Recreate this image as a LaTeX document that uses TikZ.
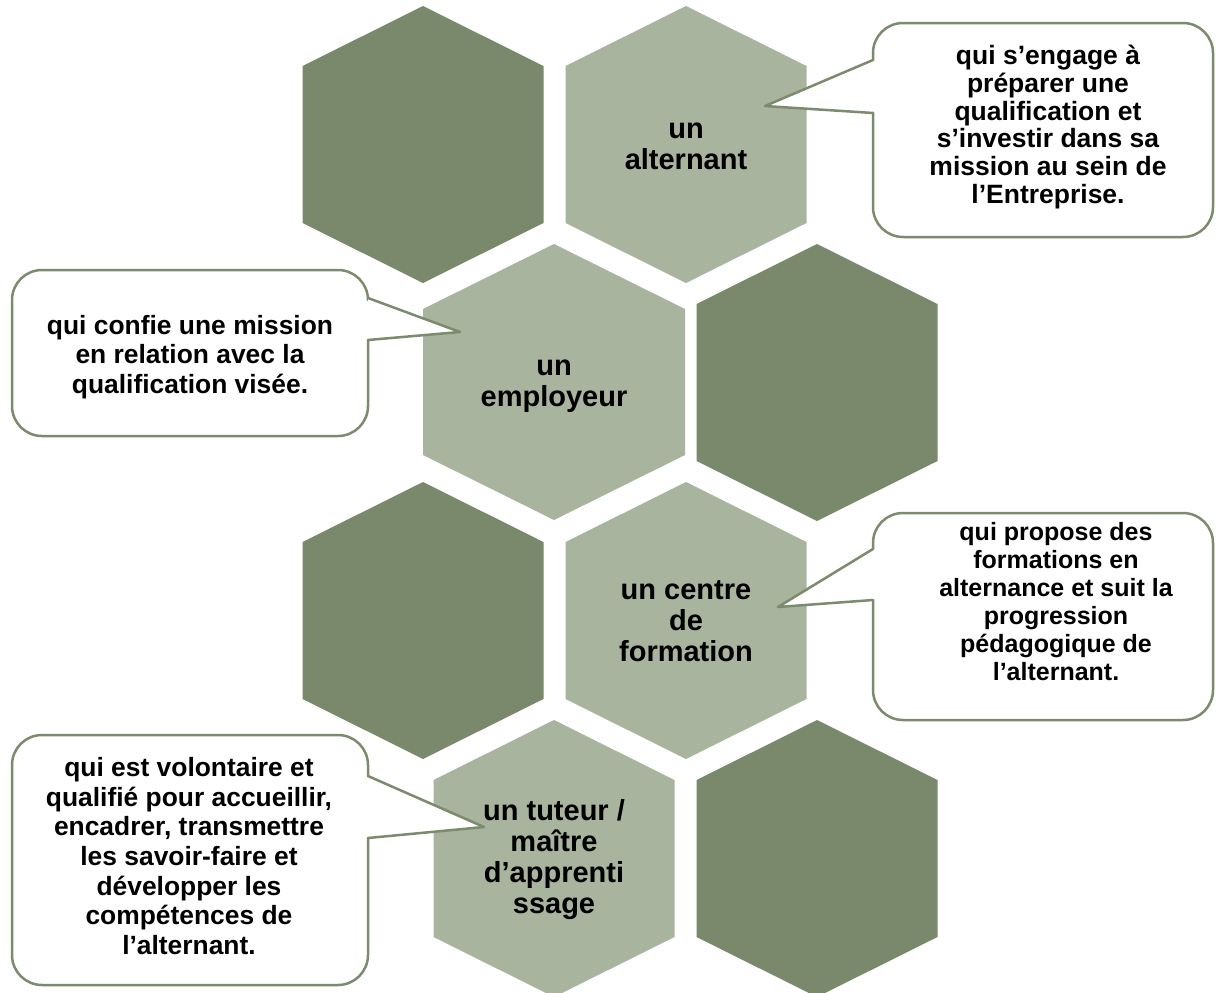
\documentclass[tikz,border=0pt]{standalone}
\usepackage{fontspec}
\setmainfont{Liberation Sans}
\definecolor{hexdark}{HTML}{7A896B}
\definecolor{hexlight}{HTML}{A9B49F}
\definecolor{callborder}{HTML}{7C8B6D}
% hexagon path: cx, top, half width, corner drop, vertical side
\newcommand{\hexpath}[5]{(#1,#2) -- ++(#3,#4) -- ++(0,#5) -- ++(-#3,#4) -- ++(-#3,-#4) -- ++(0,-#5) -- cycle}
\tikzset{
  darkhex/.style={fill=hexdark},
  lighthex/.style={fill=hexlight},
  callbox/.style={fill=white, draw=callborder, line width=2.5pt, line join=round, line cap=round},
  callrect/.style={callbox, rounded corners=30pt},
  hexlabel/.style={align=center, inner sep=0pt, font=\bfseries\fontsize{29}{31}\selectfont},
  calltextA/.style={align=center, inner sep=0pt, font=\bfseries\fontsize{26.5}{27.8}\selectfont},
  calltextB/.style={align=center, inner sep=0pt, font=\bfseries\fontsize{26.4}{29.7}\selectfont},
  calltextC/.style={align=center, inner sep=0pt, font=\bfseries\fontsize{25}{28}\selectfont}
}
\begin{document}
\begin{tikzpicture}[x=1pt, y=-1pt]
\useasboundingbox (0,0) rectangle (1216,993);
\fill[white] (0,0) rectangle (1216,993);

% hexagons
\fill[darkhex]  \hexpath{423}{6}{120.5}{60}{157};
\fill[lighthex] \hexpath{686}{6}{120.5}{60}{157};
\fill[lighthex] \hexpath{554}{244}{131}{65}{146};
\fill[darkhex]  \hexpath{817}{244}{120.5}{60}{157};
\fill[darkhex]  \hexpath{423}{482}{120.5}{60}{157};
\fill[lighthex] \hexpath{686}{482}{120.5}{60}{157};
\fill[lighthex] \hexpath{554}{720}{120.5}{60}{157};
\fill[darkhex]  \hexpath{817}{720}{120.5}{60}{157};

% hexagon labels
\node[hexlabel] (alternant) at (686,146) {un\\alternant};
\node[hexlabel] (employeur) at (554,386) {un\\employeur};
\node[hexlabel] (centre) at (686,621) {un centre\\de\\formation};
\node[hexlabel] (tuteur) at (554,860) {un tuteur /\\maître\\d’apprenti\\ssage};

% callout 1 (top right)
\filldraw[callrect] (873,60) -- (873,23) -- (1213,23) -- (1213,237) -- (873,237) -- (873,113);
\filldraw[callbox] (873,113) -- (765,106) -- (873,60);
\node[calltextA] (txtA) at (1048,127) {qui s’engage à\\préparer une\\qualification et\\s’investir dans sa\\mission au sein de\\l’Entreprise.};

% callout 2 (left, employeur)
\filldraw[callrect] (368,340) -- (368,436) -- (12,436) -- (12,270) -- (368,270) -- (368,298);
\filldraw[callbox] (368,298) -- (460,332) -- (368,340);
\node[calltextB] (txtB) at (190,357) {qui confie une mission\\en relation avec la\\qualification visée.};

% callout 3 (right, centre de formation)
\filldraw[callrect] (873,549) -- (873,513) -- (1213,513) -- (1213,720) -- (873,720) -- (873,600);
\filldraw[callbox] (873,600) -- (778,607) -- (873,549);
\node[calltextC] (txtC) at (1056,602) {qui propose des\\formations en\\alternance et suit la\\progression\\pédagogique de\\l’alternant.};

% callout 4 (bottom left, tuteur)
\filldraw[callrect] (368,838) -- (368,985) -- (12,985) -- (12,735) -- (368,735) -- (368,776);
\filldraw[callbox] (368,776) -- (484,827) -- (368,838);
\node[calltextB] (txtD) at (189,856) {qui est volontaire et\\qualifié pour accueillir,\\encadrer, transmettre\\les savoir-faire et\\développer les\\compétences de\\l’alternant.};
\end{tikzpicture}
\end{document}
